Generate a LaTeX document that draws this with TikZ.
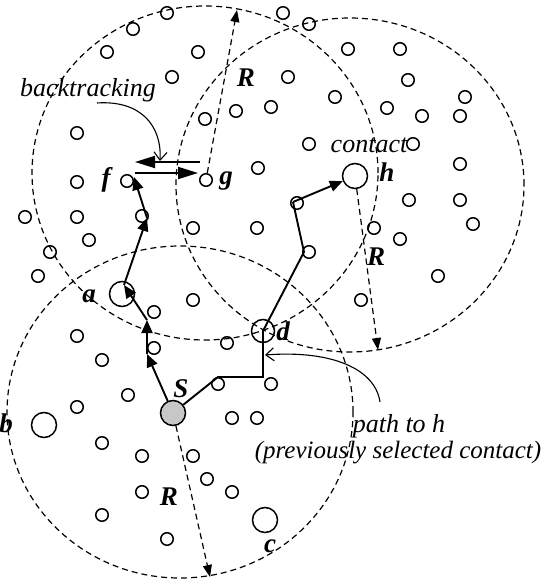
\documentclass[tikz,border=0pt]{standalone}
\usepackage{fontspec}
\setmainfont{Liberation Serif}
\usetikzlibrary{arrows.meta}
\begin{document}
\begin{tikzpicture}[x=1pt,y=-1pt,
  peer/.style={circle,draw,line width=1.5pt,minimum size=12.5pt,inner sep=0pt},
  bigpeer/.style={circle,draw,line width=1.5pt,minimum size=25pt,inner sep=0pt},
  rangeline/.style={line width=1.2pt,dash pattern=on 6pt off 4pt},
  radius/.style={rangeline,-{Triangle[length=12pt,width=9pt]}},
  route/.style={line width=1.9pt,line join=miter},
  hop/.style={route,-{Triangle[length=13pt,width=11pt]}},
  back/.style={line width=1.9pt,-{Triangle[length=20pt,width=12pt]}},
  note/.style={font=\fontsize{26}{30}\selectfont\itshape,inner sep=0pt},
  lbl/.style={font=\fontsize{27}{30}\selectfont\bfseries\itshape,inner sep=0pt},
  pointer/.style={line width=1.1pt,-{Straight Barb[length=8pt,width=13pt]}}
]
\useasboundingbox (0,0) rectangle (546,588);

% radio ranges
\draw[rangeline] (205,173) ellipse [x radius=173pt, y radius=167pt];
\draw[rangeline] (350,185) ellipse [x radius=174pt, y radius=167pt];
\draw[rangeline] (180,412) ellipse [x radius=173pt, y radius=166pt];

% ordinary nodes
\foreach \px/\py [count=\i] in {
  167/13, 133/29, 107/52, 198/52, 172/77, 283/13, 309/24, 348/49, 400/49,
  288/77, 408/80, 335/97, 465/97, 271/107, 236/111, 387/108, 422/116,
  460/116, 205/119, 77/133, 309/144, 413/144, 460/164, 258/168, 77/182,
  409/200, 460/200, 473/224, 400/239, 438/276, 374/228, 361/300,
  25/217, 77/217, 193/228, 257/228, 89/240, 50/252, 38/276,
  193/300, 154/312, 77/336, 227/343, 154/348, 102/360, 297/203, 309/252,
  218/384, 271/384, 128/395, 77/407, 232/418, 257/418, 102/443, 142/456,
  193/456, 207/479, 142/492, 232/492, 102/515, 167/539}
  \node[peer] (n\i) at (\px,\py) {};

\node[peer] (p3) at (142,216) {};
\node[peer] (f) at (127,181) {};
\node[peer] (g) at (206,180) {};

% special nodes
\node[bigpeer] (a) at (122,294) {};
\node[bigpeer] (b) at (44,425) {};
\node[bigpeer] (c) at (265,520) {};
\node[bigpeer] (h) at (355,176) {};
\node[bigpeer,minimum size=23pt] (d) at (263,331) {};
\node[bigpeer,fill=black!22] (S) at (173,413) {};

% route vertices
\coordinate (p1) at (147,354);
\coordinate (p2) at (147,320);
\coordinate (av) at (124,285);
\coordinate (p3v) at (147,218);
\coordinate (fv) at (134,177);
\coordinate (r1) at (218,377);
\coordinate (r2) at (263,377);
\coordinate (r4) at (304,252);
\coordinate (r5) at (293,202);

% search path from S
\draw[hop] (S) -- (p1);
\draw[hop] (p1) -- (p2);
\draw[hop] (p2) -- (av);
\draw[hop] (av) -- (p3v);
\draw[hop] (p3v) -- (fv);

% earlier path to h
\draw[route] (S) -- (r1) -- (r2) -- (d.center) -- (r4) -- (r5);
\draw[route,-{Triangle[length=13pt,width=11pt]}] (r5) -- (h);

% backtracking between f and g
\coordinate (bt1) at (200,162);
\coordinate (bt2) at (135,162);
\coordinate (bt3) at (135,173);
\coordinate (bt4) at (198,173);
\draw[back] (bt1) -- (bt2);
\draw[back] (bt3) -- (bt4);

% radius arrows
\coordinate (topR) at (237,10);
\coordinate (rightR) at (378,350);
\coordinate (lowR) at (210,577);
\draw[radius] (g) -- (topR);
\draw[radius] (h) -- (rightR);
\draw[radius] (S) -- (lowR);

% labels
\node[lbl,anchor=base] (lf) at (106,186) {f};
\node[lbl,anchor=base] (lg) at (226,184) {g};
\node[lbl,anchor=base] (la) at (89,302) {a};
\node[lbl,anchor=base] (ld) at (283,340) {d};
\node[lbl,anchor=base] (lS) at (181,397) {S};
\node[lbl,anchor=base] (lb) at (6,432) {b};
\node[lbl,anchor=base] (lc) at (270,552) {c};
\node[lbl,anchor=base] (lh) at (387,182) {h};
\node[lbl,anchor=base] (R1) at (246,87) {R};
\node[lbl,anchor=base] (R2) at (376,265) {R};
\node[lbl,anchor=base] (R3) at (169,505) {R};

% notes
\node[note,anchor=base] (bt) at (88,97) {backtracking};
\node[note,anchor=base] (ct) at (369,153) {contact};
\node[note,anchor=base] (pt) at (399,432) {path to h};
\node[note,font=\fontsize{25}{30}\selectfont\itshape,anchor=base] (ps) at (398,458) {(previously selected contact)};

\coordinate (btend) at (97,103);
\coordinate (bthit) at (160,161);
\draw[pointer] (btend) .. controls (140,100) and (162,125) .. (bthit);
\coordinate (ptend) at (380,402);
\coordinate (pthit) at (265,355);
\draw[pointer] (ptend) .. controls (375,368) and (330,350) .. (pthit);
\end{tikzpicture}
\end{document}
